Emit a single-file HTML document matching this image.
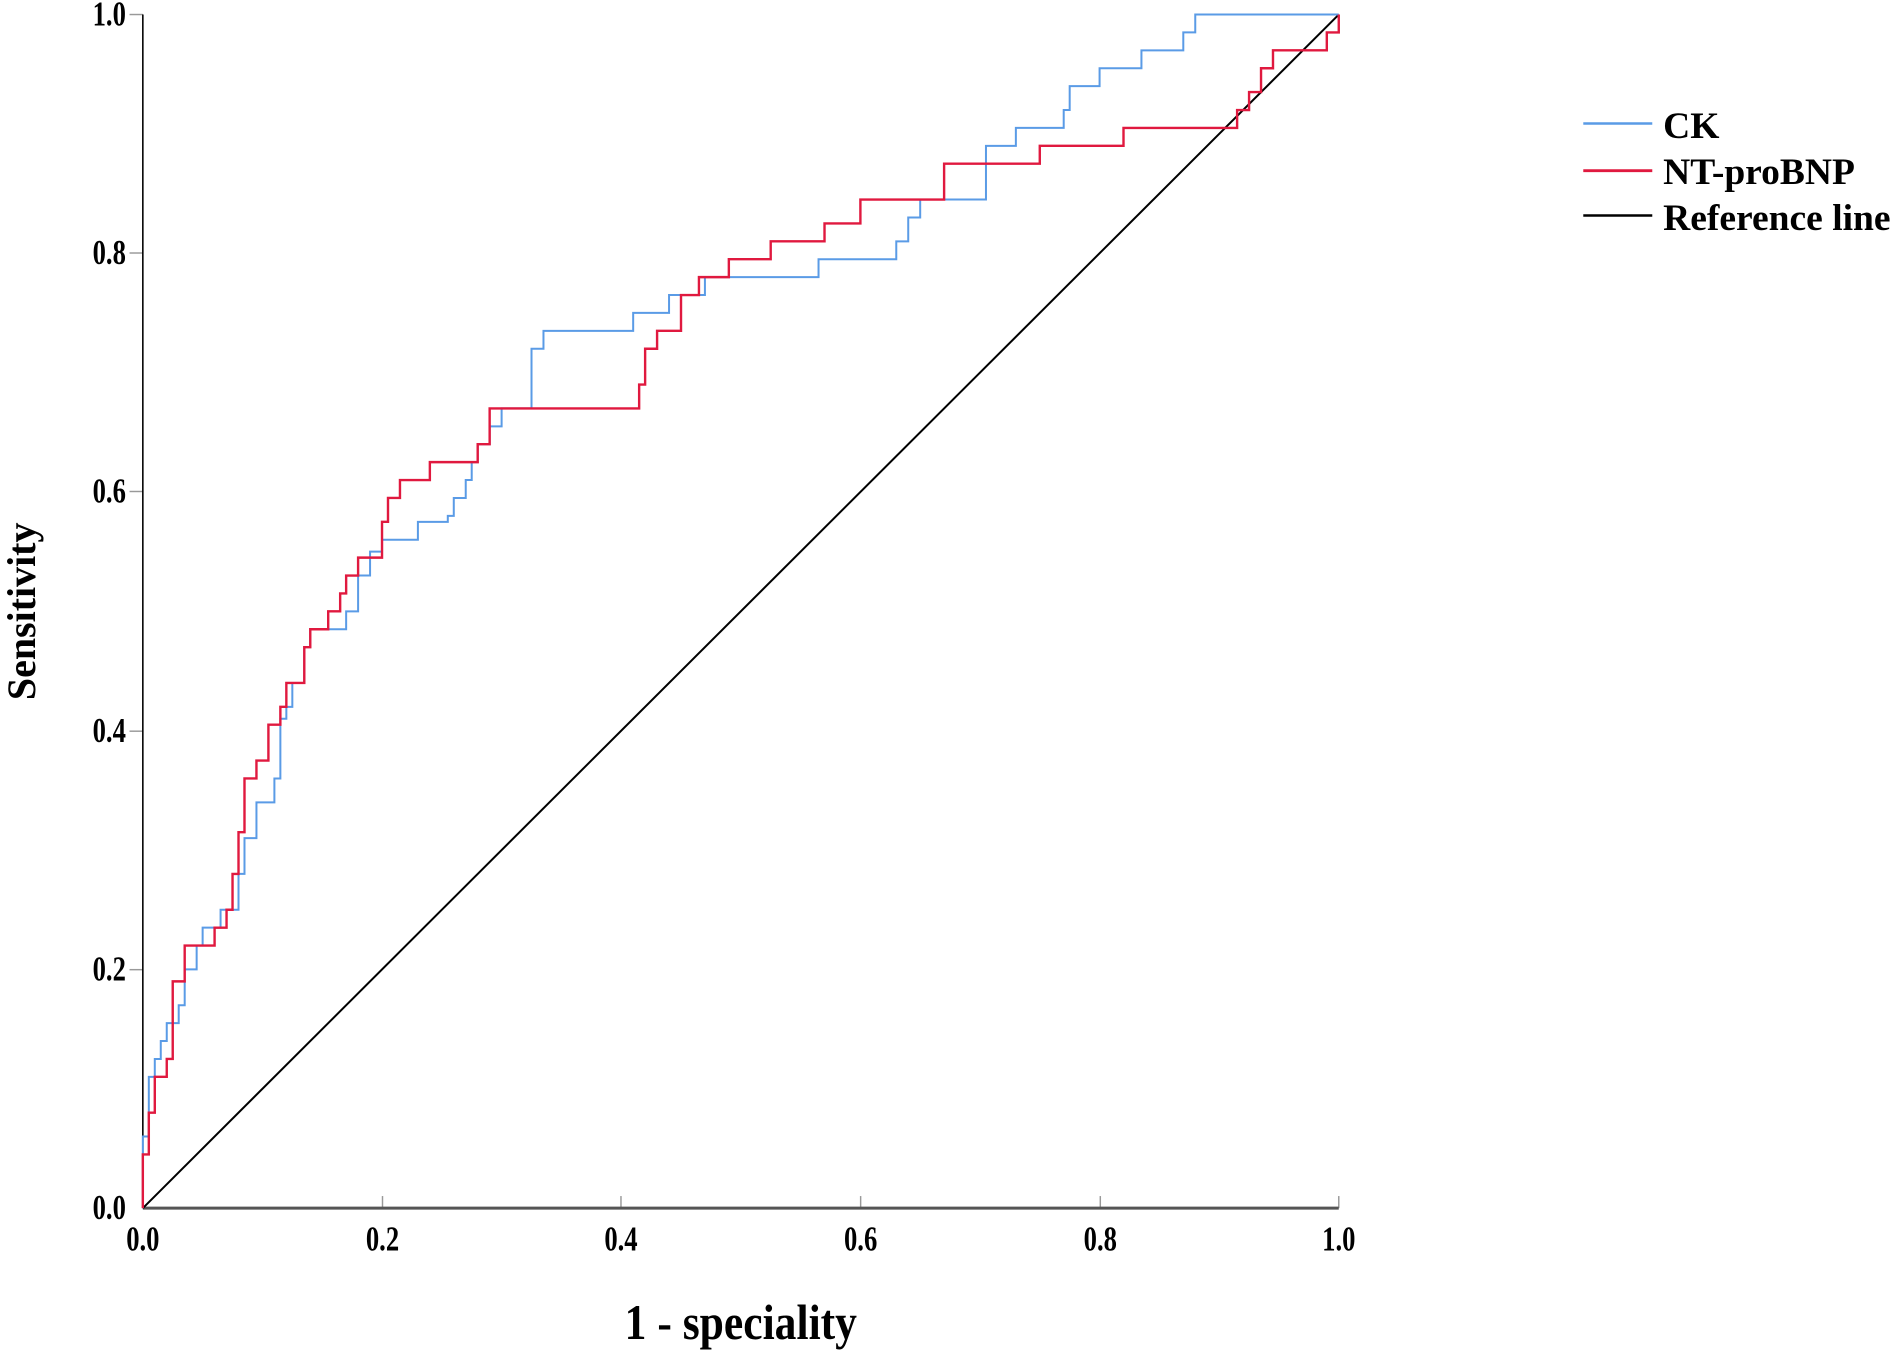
<!DOCTYPE html>
<html><head><meta charset="utf-8"><style>
html,body{margin:0;padding:0;background:#fff;}
svg{display:block;}
text{font-family:"Liberation Serif",serif;font-weight:bold;fill:#000;}
</style></head><body>
<svg width="1898" height="1351" viewBox="0 0 1568 1116" preserveAspectRatio="none" xmlns="http://www.w3.org/2000/svg">
<rect width="1568" height="1116" fill="#fff"/>
<g stroke="#999" stroke-width="1.2">
<line x1="107" y1="12" x2="118" y2="12"/><line x1="107" y1="209" x2="118" y2="209"/>
<line x1="107" y1="406" x2="118" y2="406"/><line x1="107" y1="604" x2="118" y2="604"/>
<line x1="107" y1="801" x2="118" y2="801"/>
<line x1="316" y1="988" x2="316" y2="998"/><line x1="513" y1="988" x2="513" y2="998"/>
<line x1="711" y1="988" x2="711" y2="998"/><line x1="909" y1="988" x2="909" y2="998"/>
<line x1="1106" y1="988" x2="1106" y2="998"/>
</g>
<line x1="118" y1="12" x2="118" y2="998" stroke="#000" stroke-width="1.3"/>
<line x1="118" y1="998" x2="1106" y2="998" stroke="#555" stroke-width="2.5"/>
<g transform="translate(118,998) scale(988,-986)" fill="none">
<line x1="0" y1="0" x2="1" y2="1" stroke="#000" stroke-width="2" vector-effect="non-scaling-stroke"/>
<path stroke="#5a9be6" stroke-width="2" vector-effect="non-scaling-stroke" d="M0 0 V0.06 H0.005 V0.11 H0.01 V0.125 H0.015 V0.14 H0.02 V0.155 H0.03 V0.17 H0.035 V0.2 H0.045 V0.22 H0.05 V0.235 H0.065 V0.25 H0.08 V0.28 H0.085 V0.31 H0.095 V0.34 H0.11 V0.36 H0.115 V0.41 H0.12 V0.42 H0.125 V0.44 H0.135 V0.47 H0.14 V0.485 H0.17 V0.5 H0.18 V0.53 H0.19 V0.55 H0.2 V0.56 H0.23 V0.575 H0.255 V0.58 H0.26 V0.595 H0.27 V0.61 H0.275 V0.625 H0.28 V0.64 H0.29 V0.655 H0.3 V0.67 H0.325 V0.72 H0.335 V0.735 H0.41 V0.75 H0.44 V0.765 H0.47 V0.78 H0.565 V0.795 H0.63 V0.81 H0.64 V0.83 H0.65 V0.845 H0.705 V0.89 H0.73 V0.905 H0.77 V0.92 H0.775 V0.94 H0.8 V0.955 H0.835 V0.97 H0.87 V0.985 H0.88 V1 H1"/>
<path stroke="#e0193f" stroke-width="2.4" vector-effect="non-scaling-stroke" d="M0 0 V0.045 H0.005 V0.08 H0.01 V0.11 H0.02 V0.125 H0.025 V0.19 H0.035 V0.22 H0.06 V0.235 H0.07 V0.25 H0.075 V0.28 H0.08 V0.315 H0.085 V0.36 H0.095 V0.375 H0.105 V0.405 H0.115 V0.42 H0.12 V0.44 H0.135 V0.47 H0.14 V0.485 H0.155 V0.5 H0.165 V0.515 H0.17 V0.53 H0.18 V0.545 H0.2 V0.575 H0.205 V0.595 H0.215 V0.61 H0.24 V0.625 H0.28 V0.64 H0.29 V0.67 H0.415 V0.69 H0.42 V0.72 H0.43 V0.735 H0.45 V0.765 H0.465 V0.78 H0.49 V0.795 H0.525 V0.81 H0.57 V0.825 H0.6 V0.845 H0.67 V0.875 H0.75 V0.89 H0.82 V0.905 H0.915 V0.92 H0.925 V0.935 H0.935 V0.955 H0.945 V0.97 H0.99 V0.985 H1 V1"/>
</g>
<g font-size="22" text-anchor="end">
<text transform="translate(104,21) scale(1,1.3)">1.0</text><text transform="translate(104,218) scale(1,1.3)">0.8</text><text transform="translate(104,415) scale(1,1.3)">0.6</text>
<text transform="translate(104,613) scale(1,1.3)">0.4</text><text transform="translate(104,810) scale(1,1.3)">0.2</text><text transform="translate(104,1007) scale(1,1.3)">0.0</text>
</g>
<g font-size="22" text-anchor="middle">
<text transform="translate(118,1033) scale(1,1.3)">0.0</text><text transform="translate(316,1033) scale(1,1.3)">0.2</text><text transform="translate(513,1033) scale(1,1.3)">0.4</text>
<text transform="translate(711,1033) scale(1,1.3)">0.6</text><text transform="translate(909,1033) scale(1,1.3)">0.8</text><text transform="translate(1106,1033) scale(1,1.3)">1.0</text>
</g>
<text transform="translate(612,1106) scale(1,1.15)" font-size="36" text-anchor="middle">1 - speciality</text>
<text transform="translate(29,505) rotate(-90)" font-size="33" text-anchor="middle">Sensitivity</text>
<line x1="1308" y1="102" x2="1365" y2="102" stroke="#5a9be6" stroke-width="2"/>
<line x1="1308" y1="141" x2="1365" y2="141" stroke="#e0193f" stroke-width="2.4"/>
<line x1="1308" y1="178" x2="1365" y2="178" stroke="#000" stroke-width="2"/>
<g font-size="31">
<text x="1374" y="114">CK</text><text x="1374" y="152">NT-proBNP</text><text x="1374" y="190">Reference line</text>
</g>
</svg>
</body></html>
